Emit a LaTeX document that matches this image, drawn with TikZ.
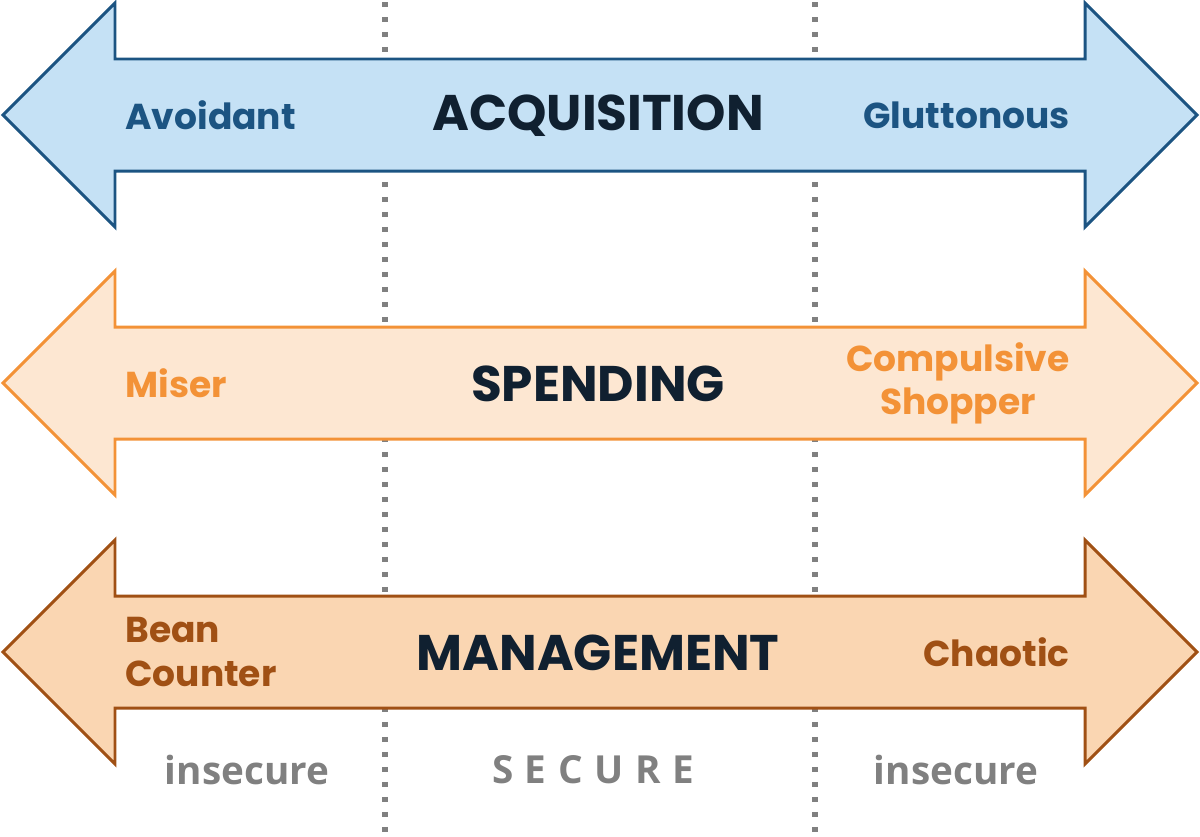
\documentclass[tikz,border=0pt]{standalone}
\usepackage{fontspec}
\setmainfont{Poppins}
\newfontfamily\zonefont{Open Sans}
\newfontfamily\spacedfont[LetterSpace=30]{Open Sans}
\usepackage{xcolor}
\usetikzlibrary{positioning}
\definecolor{acqfill}{RGB}{197,225,245}
\definecolor{acqline}{RGB}{28,84,130}
\definecolor{spendfill}{RGB}{253,231,210}
\definecolor{spendline}{RGB}{243,146,55}
\definecolor{mgmtfill}{RGB}{250,214,178}
\definecolor{mgmtline}{RGB}{160,80,20}
\definecolor{navy}{RGB}{16,32,48}
\definecolor{zonegray}{RGB}{128,128,128}

\begin{document}
\begin{tikzpicture}[
  x=0.02cm, y=-0.02cm,
  bigarrow/.style={line width=1.7pt, line join=miter},
  divider/.style={zonegray, line width=3pt, dash pattern=on 0.1cm off 0.2cm},
  title/.style={font=\fontsize{28.5}{32}\selectfont\bfseries, text=navy, inner sep=0pt},
  endlabel/.style={font=\fontsize{20.5}{24.5}\selectfont\bfseries, inner sep=0pt},
  zone/.style={font=\zonefont\fontsize{22}{26}\selectfont\bfseries, text=zonegray, inner sep=0pt}
]
  \useasboundingbox (0,0) rectangle (1200,836);
  % dotted dividers
  \coordinate (d1top) at (385,2);
  \coordinate (d1bot) at (385,832);
  \coordinate (d2top) at (815,2);
  \coordinate (d2bot) at (815,832);
  \draw[divider] (d1top) -- (d1bot);
  \draw[divider] (d2top) -- (d2bot);
  % double arrows
  \foreach \c/\fc/\dc in {115/acqfill/acqline, 383/spendfill/spendline, 652/mgmtfill/mgmtline}
    \draw[bigarrow, fill=\fc, draw=\dc] (3,\c) -- ++(112,-112) -- ++(0,56) -- ++(970,0) -- ++(0,-56)
      -- ++(112,112) -- ++(-112,112) -- ++(0,-56) -- ++(-970,0) -- ++(0,56) -- cycle;
  % acquisition
  \node[title] (acq) at (598,116) {ACQUISITION};
  \node[endlabel, text=acqline, anchor=west] (avoid) at (125,115) {Avoidant};
  \node[endlabel, text=acqline, anchor=east] (glut) at (1070,115) {Gluttonous};
  % spending
  \node[title] (spend) at (598,384) {SPENDING};
  \node[endlabel, text=spendline, anchor=west] (miser) at (125,383) {Miser};
  \node[endlabel, text=spendline, anchor=east, align=center] (shop) at (1070,383) {Compulsive\\Shopper};
  % management
  \node[title] (mgmt) at (598,653) {MANAGEMENT};
  \node[endlabel, text=mgmtline, anchor=west, align=left] (bean) at (125,652) {Bean\\Counter};
  \node[endlabel, text=mgmtline, anchor=east] (chaos) at (1070,652) {Chaotic};
  % zones
  \node[zone] (insecL) at (247,770) {insecure};
  \node[zone, font=\spacedfont\fontsize{22}{26}\selectfont\bfseries] (secure) at (593,770) {SECURE};
  \node[zone] (insecR) at (956,770) {insecure};
\end{tikzpicture}
\end{document}
